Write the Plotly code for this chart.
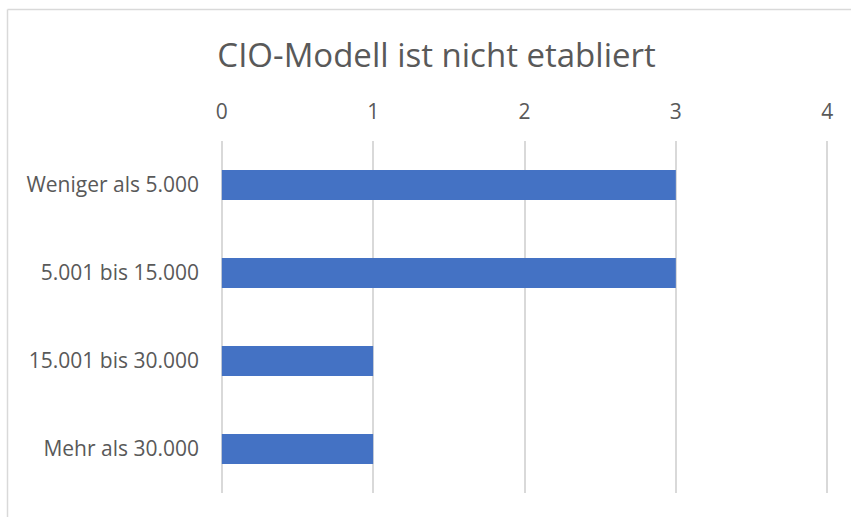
import plotly.graph_objects as go

categories = ["Weniger als 5.000", "5.001 bis 15.000", "15.001 bis 30.000", "Mehr als 30.000"]
values = [3, 3, 1, 1]
x_ticks = [0, 1, 2, 3, 4]

W, H = 851, 517
L, R, T, B = 220, 22, 141, 24
pw, ph = W - L - R, H - T - B

def px_x(p):
    return (p - L) / pw

def px_y(p):
    return (H - B - p) / ph

fig = go.Figure(go.Bar(
    x=values,
    y=categories,
    orientation="h",
    width=0.34,
    marker=dict(color="#4472C4", line=dict(width=0)),
))

border = "#d9d9d9"
fig.update_layout(
    width=W, height=H,
    margin=dict(l=L, r=R, t=T, b=B),
    paper_bgcolor="white",
    plot_bgcolor="white",
    font=dict(family="Open Sans, Lato, sans-serif", color="#595959"),
    title=dict(
        text="CIO-Modell ist nicht etabliert",
        x=0.513, xanchor="center",
        y=1 - 55 / H, yanchor="middle",
        font=dict(size=33, color="#595959"),
    ),
    xaxis=dict(
        side="top",
        range=[-0.012, 4.012],
        tickvals=x_ticks,
        showgrid=True, gridcolor=border, gridwidth=1.5,
        zeroline=False,
        showline=False,
        ticks="",
        tickfont=dict(size=21, color="#595959"),
        ticklabelstandoff=17,
    ),
    yaxis=dict(
        categoryorder="array",
        categoryarray=categories,
        autorange="reversed",
        showgrid=False,
        zeroline=False,
        showline=False,
        ticks="",
        tickfont=dict(size=21, color="#595959"),
        ticklabelstandoff=20,
    ),
    showlegend=False,
    shapes=[
        dict(type="line", xref="paper", yref="paper",
             x0=px_x(7.5), x1=px_x(7.5), y0=px_y(9.5), y1=px_y(530),
             line=dict(color=border, width=1.5)),
        dict(type="line", xref="paper", yref="paper",
             x0=px_x(7.5), x1=px_x(870), y0=px_y(9.5), y1=px_y(9.5),
             line=dict(color=border, width=1.5)),
    ],
)
fig.update_layout(xaxis_layer="below traces")

fig.write_html("out.html", config={"displayModeBar": False},
               post_script="document.body.style.margin='0';")
